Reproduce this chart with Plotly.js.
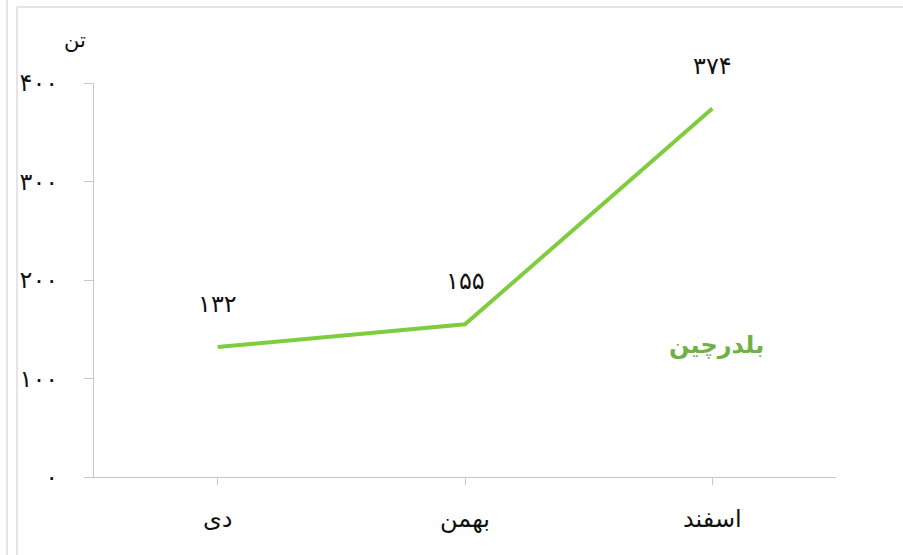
<!DOCTYPE html>
<html>
<head>
<meta charset="utf-8">
<script src="https://cdn.plot.ly/plotly-3.0.1.min.js"></script>
<style>html,body{margin:0;padding:0;background:#fff;}#chart{width:903px;height:555px;}</style>
</head>
<body>
<div id="chart"></div>
<script>
const categories = ['دی', 'بهمن', 'اسفند'];
const values = [132, 155, 374];
const yTickValues = [0, 100, 200, 300, 400];
const seriesName = 'بلدرچین';
const unitLabel = 'تن';

function toPersian(n) {
  const d = ['۰','۱','۲','۳','۴','۵','۶','۷','۸','۹'];
  return String(n).replace(/[0-9]/g, c => d[+c]);
}

const FONT = 'DejaVu Sans, sans-serif';
const W = 903, H = 555, L = 94, R = 67, T = 83, B = 78;
const pw = W - L - R, ph = H - T - B;
const px = x => (x - L) / pw;
const py = y => (H - B - y) / ph;

const trace = {
  x: categories,
  y: values,
  type: 'scatter',
  mode: 'lines',
  name: seriesName,
  line: {color: '#7fcc3f', width: 4},
  hoverinfo: 'skip'
};

const annotations = categories.map((c, i) => ({
  x: c, y: values[i], xref: 'x', yref: 'y',
  xanchor: 'center', yanchor: 'middle',
  text: toPersian(values[i]), showarrow: false,
  yshift: 43, font: {family: FONT, size: 24, color: '#111'}
}));
annotations.push({
  xref: 'paper', yref: 'paper', x: px(75), y: py(40),
  xanchor: 'center', yanchor: 'middle',
  text: unitLabel, showarrow: false, font: {family: FONT, size: 21, color: '#111'}
});
annotations.push({
  xref: 'paper', yref: 'paper', x: px(716), y: py(345),
  xanchor: 'center', yanchor: 'middle',
  text: '<b>' + seriesName + '</b>', showarrow: false,
  font: {family: FONT, size: 24, color: '#70b044'}
});

const lineStyle = {color: '#dcdcdc', width: 1.5};
const shapes = [
  {type: 'line', xref: 'paper', yref: 'paper', x0: px(7), x1: px(7), y0: py(555), y1: py(0), line: lineStyle, layer: 'below'},
  {type: 'line', xref: 'paper', yref: 'paper', x0: px(17), x1: px(17), y0: py(555), y1: py(7), line: lineStyle, layer: 'below'},
  {type: 'line', xref: 'paper', yref: 'paper', x0: px(17), x1: px(903), y0: py(7), y1: py(7), line: lineStyle, layer: 'below'}
];

const layout = {
  width: W, height: H,
  margin: {l: L, r: R, t: T, b: B},
  paper_bgcolor: '#fff', plot_bgcolor: '#fff',
  showlegend: false,
  font: {family: FONT, color: '#111'},
  xaxis: {
    type: 'category', range: [-0.5, 2.5],
    showline: true, linecolor: '#c8c8c8', linewidth: 1,
    showgrid: false, zeroline: false,
    ticks: 'outside', ticklen: 7, tickcolor: '#c8c8c8',
    ticklabelstandoff: 13,
    tickfont: {family: FONT, size: 24, color: '#111'}
  },
  yaxis: {
    range: [0, 400],
    tickvals: yTickValues, ticktext: yTickValues.map(toPersian),
    showline: true, linecolor: '#c8c8c8', linewidth: 1,
    showgrid: false, zeroline: false,
    ticks: 'outside', ticklen: 9, tickcolor: '#c8c8c8',
    ticklabelstandoff: 21,
    tickfont: {family: FONT, size: 24, color: '#111'}
  },
  annotations: annotations,
  shapes: shapes
};

Plotly.newPlot('chart', [trace], layout, {displayModeBar: false, staticPlot: true});
</script>
</body>
</html>
